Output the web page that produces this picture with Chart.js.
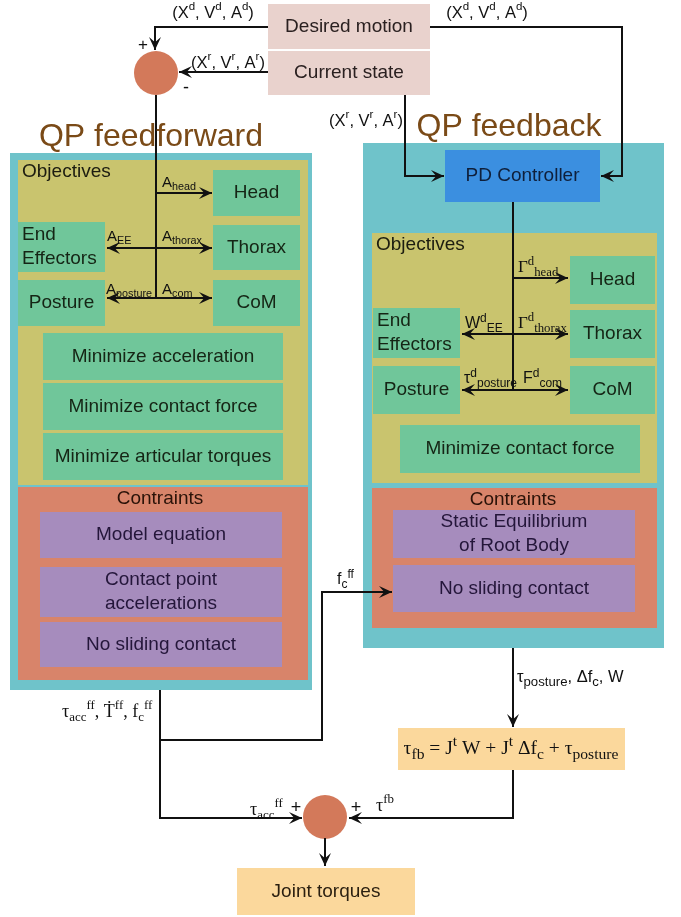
<!DOCTYPE html>
<html><head><meta charset="utf-8">
<script src="https://cdn.jsdelivr.net/npm/chart.js@4"></script>
<style>html,body{margin:0;padding:0;background:#fff}canvas{display:block}</style>
</head><body>
<canvas id="c" width="681" height="917"></canvas>
<script>
// ---------- content (names / texts) ----------
const boxTexts = [
  "", "", "", "", "", "", "",
  "Desired motion", "Current state",
  "Head", "Thorax", "CoM", "End\nEffectors", "Posture",
  "Minimize acceleration", "Minimize contact force", "Minimize articular torques",
  "Model equation", "Contact point\naccelerations", "No sliding contact",
  "PD Controller",
  "Head", "Thorax", "CoM", "End\nEffectors", "Posture",
  "Minimize contact force",
  "Static Equilibrium\nof Root Body", "No sliding contact",
  "", "Joint torques"
];
const boxKinds = [
  "panel", "olive", "red", "panel", "olive", "red", "none",
  "pink", "pink",
  "green", "green", "green", "greenL", "green",
  "green", "green", "green",
  "purple", "purple", "purple",
  "blue",
  "green", "green", "green", "greenL", "green",
  "green",
  "purple", "purple",
  "cream", "cream"
];
// box geometry in diagram units [x0, y0, x1, y1]
const boxGeom = [
  [10,153,312,690], [18,160,308,485], [18,487,308,680],
  [363,143,664,648], [372,233,657,483], [372,488,657,628], [0,0,0,0],
  [268,4,430,50], [268,50,430,95],
  [213,170,300,216], [213,225,300,270], [213,280,300,326], [18,222,105,272], [18,280,105,326],
  [43,333,283,380], [43,383,283,430], [43,433,283,480],
  [40,512,282,558], [40,567,282,617], [40,622,282,667],
  [445,150,600,202],
  [570,256,655,304], [570,310,655,358], [570,366,655,414], [373,308,460,358], [373,366,460,414],
  [400,425,640,473],
  [393,510,635,558], [393,565,635,612],
  [398,728,625,770], [237,868,415,915]
];
// connector polylines, arrow at end
const connectorPaths = [
  [[268,27],[155,27],[155,50]],
  [[268,72],[179,72]],
  [[156,95],[156,298]],
  [[156,193],[212,193]],
  [[156,248],[212,248]],
  [[156,248],[107,248]],
  [[156,298],[212,298]],
  [[156,298],[107,298]],
  [[430,27],[622,27],[622,176],[601,176]],
  [[405,95],[405,176],[444,176]],
  [[513,202],[513,390]],
  [[513,278],[568,278]],
  [[513,334],[568,334]],
  [[513,334],[462,334]],
  [[513,390],[568,390]],
  [[513,390],[462,390]],
  [[513,648],[513,727]],
  [[160,740],[322,740],[322,592],[392,592]],
  [[160,690],[160,818],[302,818]],
  [[513,770],[513,818],[349,818]],
  [[325,838],[325,866]]
];
const connectorArrow = [true,true,false,true,true,true,true,true,true,true,false,true,true,true,true,true,true,true,true,true,true];
const junctions = [[156,73],[325,817]];

// free labels: segments [text, mode] mode: n / sub / sup
const labelParts = [
  [["(X","n"],["d","sup"],[", V","n"],["d","sup"],[", A","n"],["d","sup"],[")","n"]],
  [["(X","n"],["d","sup"],[", V","n"],["d","sup"],[", A","n"],["d","sup"],[")","n"]],
  [["(X","n"],["r","sup"],[", V","n"],["r","sup"],[", A","n"],["r","sup"],[")","n"]],
  [["(X","n"],["r","sup"],[", V","n"],["r","sup"],[", A","n"],["r","sup"],[")","n"]],
  [["+","n"]], [["-","n"]],
  [["QP feedforward","n"]], [["QP feedback","n"]],
  [["Objectives","n"]], [["Objectives","n"]],
  [["Contraints","n"]], [["Contraints","n"]],
  [["A","n"],["head","sub"]],
  [["A","n"],["EE","sub"]],
  [["A","n"],["thorax","sub"]],
  [["A","n"],["posture","sub"]],
  [["A","n"],["com","sub"]],
  [["Γ","n"],["d","sup"],["head","sub"]],
  [["W","n"],["d","sup"],["EE","sub"]],
  [["Γ","n"],["d","sup"],["thorax","sub"]],
  [["τ","n"],["d","sup"],["posture","sub"]],
  [["F","n"],["d","sup"],["com","sub"]],
  [["τ","n"],["acc","sub"],["ff","sup"],[", ","n"],["Ṫ","n"],["ff","sup"],[", f","n"],["c","sub"],["ff","sup"]],
  [["f","n"],["c","sub"],["ff","sup"]],
  [["τ","n"],["posture","sub"],[", Δf","n"],["c","sub"],[", W","n"]],
  [["τ","n"],["fb","sub"],[" = J","n"],["t","sup"],[" W + J","n"],["t","sup"],[" Δf","n"],["c","sub"],[" + τ","n"],["posture","sub"]],
  [["τ","n"],["acc","sub"],["ff","sup"]],
  [["+","n"]], [["+","n"]],
  [["τ","n"],["fb","sup"]]
];
// label layout: [x, y, align, size, family, color, script ratio]
const SANS = '"Liberation Sans", Arial, sans-serif';
const SERIF = '"Liberation Serif", "Times New Roman", serif';
const labelLayout = [
  [213,13,"center",16.5,SANS,"#111",0.7],
  [487,13,"center",16.5,SANS,"#111",0.7],
  [228,63,"center",16.5,SANS,"#111",0.7],
  [366,121,"center",16.5,SANS,"#111",0.7],
  [143,45,"center",17,SANS,"#111",0.7], [186,88,"center",18,SANS,"#111",0.7],
  [151,137,"center",32,SANS,"#7a4a17",0.7], [509,127,"center",32,SANS,"#7a4a17",0.7],
  [22,172,"left",19,SANS,"#1c1c10",0.7], [376,245,"left",19,SANS,"#1c1c10",0.7],
  [160,499,"center",19,SANS,"#2a1208",0.7], [513,500,"center",19,SANS,"#2a1208",0.7],
  [162,183,"left",15,SANS,"#111",0.72],
  [107,237,"left",15,SANS,"#111",0.72],
  [162,237,"left",15,SANS,"#111",0.72],
  [106,290,"left",15,SANS,"#111",0.72],
  [162,290,"left",15,SANS,"#111",0.72],
  [518,268,"left",17,SERIF,"#111",0.75],
  [465,324,"left",16,SANS,"#111",0.75],
  [518,324,"left",17,SERIF,"#111",0.75],
  [464,379,"left",16,SANS,"#111",0.75],
  [523,379,"left",16,SANS,"#111",0.75],
  [62,712,"left",18,SERIF,"#111",0.72],
  [337,580,"left",16,SANS,"#111",0.75],
  [517,677,"left",16.5,SANS,"#111",0.8],
  [511,749,"center",19.5,SERIF,"#111",0.8],
  [250,810,"left",18,SERIF,"#111",0.72],
  [296,808,"center",18,SANS,"#111",0.7], [356,808,"center",18,SANS,"#111",0.7],
  [376,806,"left",18,SERIF,"#111",0.72]
];

// ---------- styles ----------
const FILL = {panel:"#6fc3ca", olive:"#c9c46e", red:"#d8846a", pink:"#e9d2cd", green:"#70c69a", greenL:"#70c69a",
  purple:"#a68cbd", blue:"#3b8fe0", cream:"#fbd89c", none:null};
const TEXTC = {green:"#152515", greenL:"#152515", purple:"#24163a", pink:"#2a2020", blue:"#0f1f3a", cream:"#2a1f10"};

function drawRich(ctx, x, y, parts, align, size, family, color, ratio) {
  const small = size * ratio;
  let w = 0;
  const segs = parts.map(p => {
    const fs = p[1] === "n" ? size : small;
    ctx.font = fs + "px " + family;
    const sw = ctx.measureText(p[0]).width;
    w += sw;
    return {t:p[0], m:p[1], fs, sw};
  });
  let cx = align === "center" ? x - w/2 : (align === "right" ? x - w : x);
  ctx.fillStyle = color;
  ctx.textAlign = "left";
  ctx.textBaseline = "middle";
  for (const s of segs) {
    ctx.font = s.fs + "px " + family;
    let dy = 0;
    if (s.m === "sub") dy = size * 0.3;
    if (s.m === "sup") dy = -size * 0.36;
    ctx.fillText(s.t, cx, y + dy);
    cx += s.sw;
  }
}

const diagramPlugin = {
  id: "diagram",
  beforeDatasetsDraw(chart) {
    const {ctx, scales:{x, y}} = chart;
    ctx.save();
    boxGeom.forEach((g, i) => {
      const f = FILL[boxKinds[i]];
      if (!f) return;
      const x0 = x.getPixelForValue(g[0]), x1 = x.getPixelForValue(g[2]);
      const y0 = y.getPixelForValue(g[1]), y1 = y.getPixelForValue(g[3]);
      ctx.fillStyle = f;
      ctx.fillRect(x0, y0, x1 - x0, y1 - y0);
    });
    ctx.strokeStyle = "#ffffff"; ctx.lineWidth = 2;
    ctx.beginPath();
    ctx.moveTo(x.getPixelForValue(268), y.getPixelForValue(50));
    ctx.lineTo(x.getPixelForValue(430), y.getPixelForValue(50));
    ctx.stroke();
    ctx.restore();
  },
  afterDatasetsDraw(chart) {
    const {ctx, scales:{x, y}} = chart;
    ctx.save();
    connectorPaths.forEach((p, i) => {
      if (!connectorArrow[i]) return;
      const a = p[p.length-2], b = p[p.length-1];
      const ax = x.getPixelForValue(a[0]), ay = y.getPixelForValue(a[1]);
      const bx = x.getPixelForValue(b[0]), by = y.getPixelForValue(b[1]);
      const ang = Math.atan2(by - ay, bx - ax);
      const L = 13, W = 6;
      ctx.fillStyle = "#111";
      ctx.beginPath();
      ctx.moveTo(bx, by);
      ctx.lineTo(bx - L*Math.cos(ang) + W*Math.sin(ang), by - L*Math.sin(ang) - W*Math.cos(ang));
      ctx.lineTo(bx - 0.6*L*Math.cos(ang), by - 0.6*L*Math.sin(ang));
      ctx.lineTo(bx - L*Math.cos(ang) - W*Math.sin(ang), by - L*Math.sin(ang) + W*Math.cos(ang));
      ctx.closePath();
      ctx.fill();
    });
    boxGeom.forEach((g, i) => {
      const t = boxTexts[i];
      if (!t) return;
      const cx = x.getPixelForValue((g[0]+g[2])/2);
      const cy = y.getPixelForValue((g[1]+g[3])/2);
      const lines = t.split("\n");
      const size = 19;
      const lh = 24;
      ctx.font = size + "px " + SANS;
      ctx.fillStyle = TEXTC[boxKinds[i]] || "#111";
      ctx.textBaseline = "middle";
      const left = boxKinds[i] === "greenL";
      ctx.textAlign = left ? "left" : "center";
      const tx = left ? x.getPixelForValue(g[0]) + 4 : cx;
      lines.forEach((ln, k) => {
        ctx.fillText(ln, tx, cy + (k - (lines.length-1)/2) * lh);
      });
    });
    labelParts.forEach((parts, i) => {
      const L = labelLayout[i];
      drawRich(ctx, x.getPixelForValue(L[0]), y.getPixelForValue(L[1]), parts, L[2], L[3], L[4], L[5], L[6]);
    });
    ctx.restore();
  }
};

const datasets = connectorPaths.map(p => ({
  data: p.map(q => ({x:q[0], y:q[1]})),
  showLine: true, borderColor: "#111", borderWidth: 2, pointRadius: 0, tension: 0, fill: false
}));
datasets.push({
  data: junctions.map(q => ({x:q[0], y:q[1]})),
  showLine: false, pointRadius: 22, pointStyle: "circle",
  backgroundColor: "#d3795a", borderWidth: 0
});

new Chart(document.getElementById("c").getContext("2d"), {
  type: "scatter",
  data: {datasets},
  options: {
    responsive: false, animation: false, devicePixelRatio: 1, events: [],
    layout: {padding: 0, autoPadding: false},
    plugins: {legend: {display: false}, tooltip: {enabled: false}},
    scales: {
      x: {type: "linear", min: 0, max: 681, display: false},
      y: {type: "linear", min: 0, max: 917, reverse: true, display: false}
    }
  },
  plugins: [diagramPlugin]
});
</script>
</body></html>
